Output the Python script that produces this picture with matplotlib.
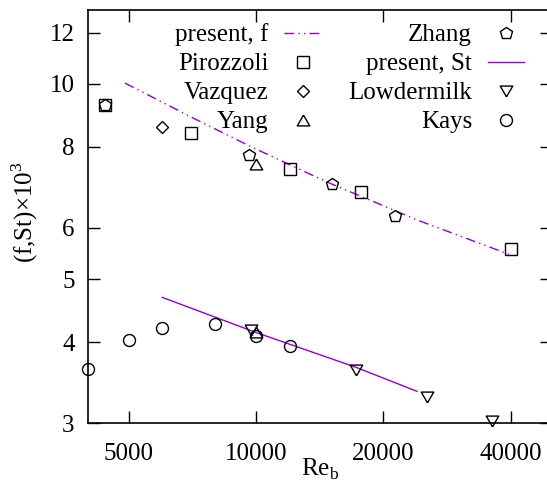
import numpy as np
import matplotlib
matplotlib.use('Agg')
import matplotlib.pyplot as plt
from matplotlib.lines import Line2D
from matplotlib.ticker import FixedLocator, FixedFormatter, NullLocator

plt.rcParams['font.family'] = 'Liberation Serif'
plt.rcParams['font.size'] = 18
plt.rcParams['mathtext.fontset'] = 'custom'
plt.rcParams['mathtext.rm'] = 'Liberation Serif'

# present results
f_re = [4900, 7100, 9700, 13000, 15100, 24200, 40000]
f_val = [10.03, 8.86, 8.01, 7.33, 7.01, 6.16, 5.45]
st_re = [6000, 10000, 17200, 24000]
st_val = [4.69, 4.14, 3.66, 3.36]

# reference data
piro_re = [4400, 7000, 12000, 17700, 40000]
piro_val = [9.27, 8.41, 7.40, 6.81, 5.57]
vazq_re = [6000]
vazq_val = [8.57]
yang_re = [10000, 10000]
yang_val = [7.54, 4.15]
zhang_re = [4400, 9640, 15100, 21300]
zhang_val = [9.27, 7.77, 7.01, 6.25]
lowd_re = [9700, 17200, 25300, 36000]
lowd_val = [4.17, 3.63, 3.29, 3.02]
kays_re = [4000, 5000, 6000, 8000, 10000, 12000]
kays_val = [3.64, 4.03, 4.20, 4.27, 4.09, 3.94]

xticks = [5000, 10000, 20000, 40000]
yticks = [3, 4, 5, 6, 8, 10, 12]

purple = '#9400d3'
tri_up = [(0, 0.433), (-0.5, -0.433), (0.5, -0.433), (0, 0.433)]
tri_dn = [(0, -0.433), (-0.5, 0.433), (0.5, 0.433), (0, -0.433)]

W, H = 547, 483
fig = plt.figure(figsize=(W / 100, H / 100), dpi=100)
ax = fig.add_axes([87.7 / W, 1 - 423.3 / H, (551.9 - 87.7) / W, (423.3 - 10) / H])

mk = dict(ls='none', mfc='none', mec='black', mew=1.0, clip_on=False, zorder=3)
h_f, = ax.plot(f_re, f_val, color=purple, lw=1.0, ls=(0, (7, 3, 1, 3, 1, 3)), label='present, f')
h_p, = ax.plot(piro_re, piro_val, marker='s', ms=8.6, label='Pirozzoli', **mk)
h_v, = ax.plot(vazq_re, vazq_val, marker='D', ms=6.4, label='Vazquez', **mk)
h_y, = ax.plot(yang_re, yang_val, marker=tri_up, ms=9.0, label='Yang', **mk)
h_z, = ax.plot(zhang_re, zhang_val, marker='p', ms=8.7, label='Zhang', **mk)
h_s, = ax.plot(st_re, st_val, color=purple, lw=1.0, label='present, St')
h_l, = ax.plot(lowd_re, lowd_val, marker=tri_dn, ms=9.0, label='Lowdermilk', **mk)
h_k, = ax.plot(kays_re, kays_val, marker='o', ms=8.6, label='Kays', **mk)

ax.set_xscale('log')
ax.set_yscale('log')
ax.set_xlim(4000, 50000)
ax.set_ylim(3, 13)
ax.xaxis.set_major_locator(FixedLocator(xticks))
ax.xaxis.set_major_formatter(FixedFormatter([str(v) for v in xticks]))
ax.yaxis.set_major_locator(FixedLocator(yticks))
ax.yaxis.set_major_formatter(FixedFormatter([str(v) for v in yticks]))
ax.xaxis.set_minor_locator(NullLocator())
ax.yaxis.set_minor_locator(NullLocator())
ax.tick_params(which='both', direction='in', top=True, right=True, length=8.6, width=1.0)
ax.tick_params(axis='x', pad=14)
ax.tick_params(axis='y', pad=9.5)
for s in ax.spines.values():
    s.set_linewidth(1.2)

ax.set_xlabel(r'Re$_{\mathregular{b}}$')
ax.xaxis.set_label_coords(0.5, -0.0815)
ax.set_ylabel(r'(f,St)×10$^{\mathregular{3}}$')
ax.yaxis.set_label_coords(-0.102, 0.51)

ax.legend(handles=[h_f, h_p, h_v, h_y, h_z, h_s, h_l, h_k], ncol=2, markerfirst=False,
          frameon=False, loc='upper right', bbox_to_anchor=(524 / W, 1 - 23.5 / H),
          bbox_transform=fig.transFigure, borderpad=0, borderaxespad=0,
          handlelength=1.46, handletextpad=0.62, columnspacing=1.1, labelspacing=0.26,
          numpoints=1)

fig.savefig('out.png', dpi=100)
